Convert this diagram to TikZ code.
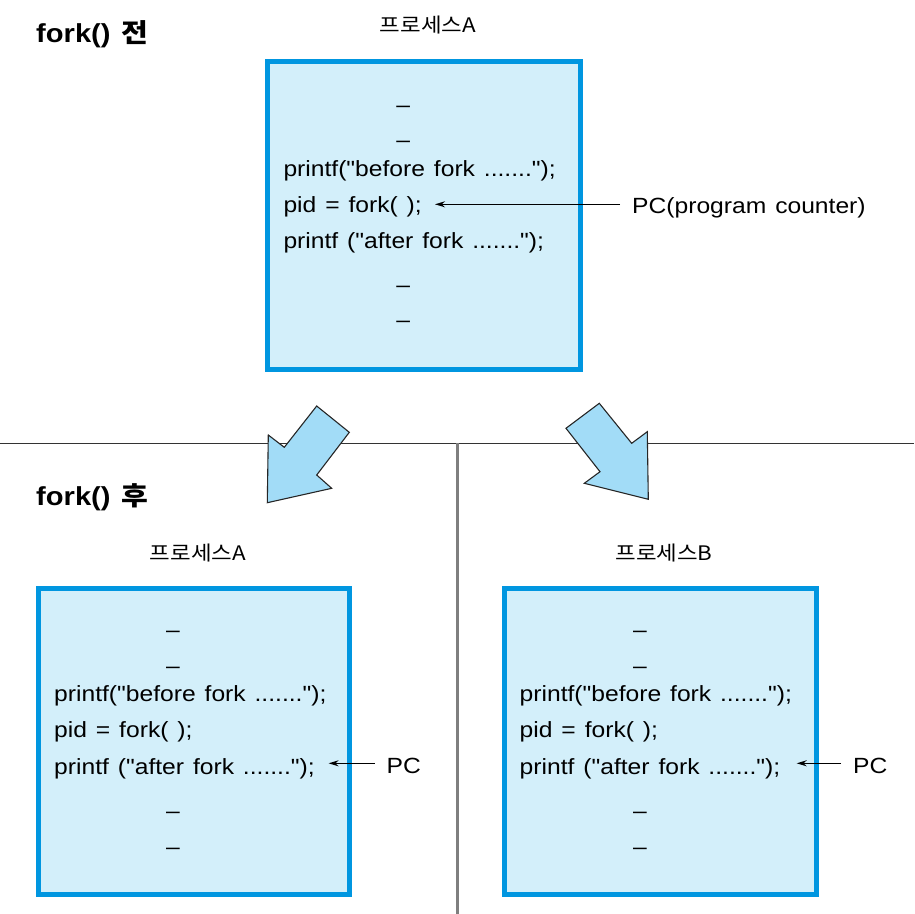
\documentclass[tikz,border=0pt]{standalone}
\usepackage{fontspec}
\usetikzlibrary{arrows.meta}
\newfontfamily\codefont[FakeStretch=1.12,WordSpace=1.3]{Liberation Sans}
\newfontfamily\krfont[FakeStretch=1.12]{Noto Sans CJK KR}
\definecolor{boxblue}{HTML}{0096E0}
\definecolor{boxfill}{HTML}{D3EFFA}
\definecolor{arrfill}{HTML}{A2DCF7}
\definecolor{sepgray}{HTML}{7F7F7F}
\tikzset{
  procbox/.style={draw=boxblue, line width=5pt, fill=boxfill, inner sep=0pt},
  code/.style={anchor=base west, inner sep=0pt, font=\codefont\fontsize{22}{26}\selectfont},
  dashtxt/.style={anchor=base, inner sep=0pt, font=\codefont\fontsize{22}{26}\selectfont},
  pclabel/.style={anchor=base west, inner sep=0pt, font=\codefont\fontsize{22}{26}\selectfont},
  heading/.style={anchor=base west, inner sep=0pt, font=\codefont\bfseries\fontsize{26}{30}\selectfont},
  procname/.style={anchor=base, inner sep=0pt, font=\krfont\fontsize{20}{24}\selectfont},
  pcarrow/.style={-{Stealth[length=10pt,width=6pt]}, line width=1.4pt, shorten <=12pt},
  bigarrow/.style={fill=arrfill, draw=black!85, line width=1.1pt, line join=miter},
}
\begin{document}
\begin{tikzpicture}[x=1pt,y=-1pt]
\useasboundingbox (0,0) rectangle (914,914);
% separators
\draw[black!80, line width=1.5pt] (0,443.3) -- (914,443.3);
\draw[sepgray, line width=3pt] (457.7,443.3) -- (457.7,914);
% big arrows
\draw[bigarrow] (284.3,447.3) -- (316.7,406) -- (349.3,432.3) -- (316.7,475) -- (331.7,488.3) -- (267.3,502.7) -- (268.3,435) -- cycle;
\draw[bigarrow] (599.3,403.3) -- (566,428.3) -- (600,471.7) -- (584.3,483.3) -- (648.3,499.3) -- (647.3,431.7) -- (631.7,443.3) -- cycle;
% headings
\node[heading] (h1) at (36,42) {fork() {\krfont\bfseries 전}};
\node[heading] (h2) at (36,505) {fork() {\krfont\bfseries 후}};
% top process
\node[procname] (n1) at (428,32) {프로세스A};
\node[procbox, minimum width=313pt, minimum height=308pt] (b1) at (424,215.5) {};
\node[dashtxt] (d11) at (403.3,112) {–};
\node[dashtxt] (d12) at (403.3,147.7) {–};
\node[code] (c11) at (283.3,176.7) {printf("before fork .......");};
\node[code] (c12) at (283.3,212.7) {pid = fork( );};
\node[code] (c13) at (283.3,248.7) {printf ("after fork .......");};
\node[dashtxt] (d13) at (403.3,292) {–};
\node[dashtxt] (d14) at (403.3,327.7) {–};
\node[pclabel] (pc1) at (632,213) {PC(program counter)};
\coordinate (t1) at (435,204.3);
\draw[pcarrow] (pc1.west |- t1) -- (t1);
% bottom left process
\node[procname] (n2) at (198,560) {프로세스A};
\node[procbox, minimum width=311pt, minimum height=306pt] (b2) at (194,741.5) {};
\node[dashtxt] (d21) at (173,637.7) {–};
\node[dashtxt] (d22) at (173,673.7) {–};
\node[code] (c21) at (54,701.7) {printf("before fork .......");};
\node[code] (c22) at (54,737.7) {pid = fork( );};
\node[code] (c23) at (54,774) {printf ("after fork .......");};
\node[dashtxt] (d23) at (173,818) {–};
\node[dashtxt] (d24) at (173,854) {–};
\node[pclabel] (pc2) at (386.5,773.5) {PC};
\coordinate (t2) at (328.6,763.3);
\draw[pcarrow] (pc2.west |- t2) -- (t2);
% bottom right process
\node[procname] (n3) at (664,560) {프로세스B};
\node[procbox, minimum width=312pt, minimum height=306pt] (b3) at (660.5,741.5) {};
\node[dashtxt] (d31) at (640,637.7) {–};
\node[dashtxt] (d32) at (640,673.7) {–};
\node[code] (c31) at (519.5,701.7) {printf("before fork .......");};
\node[code] (c32) at (519.5,737.7) {pid = fork( );};
\node[code] (c33) at (519.5,774) {printf ("after fork .......");};
\node[dashtxt] (d33) at (640,818) {–};
\node[dashtxt] (d34) at (640,854) {–};
\node[pclabel] (pc3) at (853,773.5) {PC};
\coordinate (t3) at (796.7,763.3);
\draw[pcarrow] (pc3.west |- t3) -- (t3);
\end{tikzpicture}
\end{document}
